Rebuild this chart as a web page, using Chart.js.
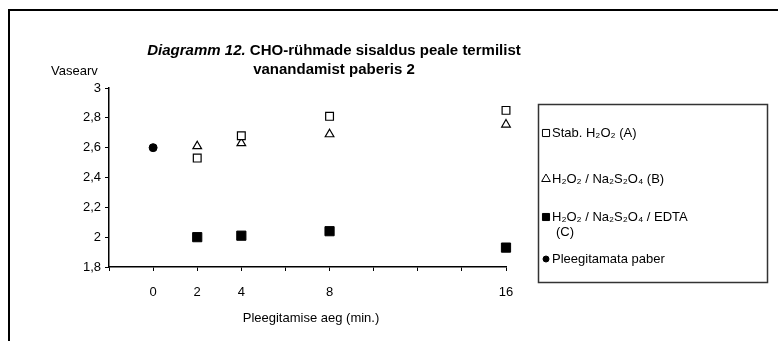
<!DOCTYPE html>
<html>
<head>
<meta charset="utf-8">
<script src="https://cdn.jsdelivr.net/npm/chart.js@4/dist/chart.umd.min.js"></script>
<style>
  html, body { margin: 0; padding: 0; background: #fff; }
  #wrap { position: relative; width: 778px; height: 341px; }
</style>
</head>
<body>
<div id="wrap"><canvas id="chart" width="778" height="341"></canvas></div>
<script>
// bleaching time (min.)
const times = [0, 2, 4, 8, 16];
const xTickLabels = [0, 2, 4, 8, 16];

const stabH2O2 = [null, 2.53, 2.68, 2.81, 2.85];
const h2o2Na = [null, 2.61, 2.63, 2.69, 2.755];
const h2o2NaEdta = [null, 2.0, 2.01, 2.04, 1.93];
const unbleached = [2.6, null, null, null, null];

const seriesNames = [
    ['Stab. H₂O₂ (A)'],
    ['H₂O₂ / Na₂S₂O₄ (B)'],
    ['H₂O₂ / Na₂S₂O₄ / EDTA', '(C)'],
    ['Pleegitamata paber']
];

const titleLine1a = 'Diagramm 12.';
const titleLine1b = ' CHO-rühmade sisaldus peale termilist';
const titleLine2 = 'vanandamist paberis 2';
const yTitle = 'Vasearv';
const xTitle = 'Pleegitamise aeg (min.)';

const FONT = '"Liberation Sans", Arial, sans-serif';

function toPoints(arr) {
    return times.map((t, i) => ({ x: t, y: arr[i] })).filter(p => p.y !== null);
}

const extras = {
    id: 'extras',
    afterDraw(chart) {
        const ctx = chart.ctx;
        ctx.save();
        // outer frame
        ctx.strokeStyle = '#000';
        ctx.lineWidth = 2;
        ctx.beginPath();
        ctx.moveTo(9, 341);
        ctx.lineTo(9, 10);
        ctx.lineTo(778, 10);
        ctx.stroke();

        // title
        ctx.fillStyle = '#000';
        ctx.textBaseline = 'middle';
        ctx.font = 'italic bold 15px ' + FONT;
        const wa = ctx.measureText(titleLine1a).width;
        ctx.font = 'bold 15px ' + FONT;
        const wb = ctx.measureText(titleLine1b).width;
        const cx = 334;
        let sx = cx - (wa + wb) / 2;
        ctx.textAlign = 'left';
        ctx.font = 'italic bold 15px ' + FONT;
        ctx.fillText(titleLine1a, sx, 51);
        ctx.font = 'bold 15px ' + FONT;
        ctx.fillText(titleLine1b, sx + wa, 51);
        ctx.textAlign = 'center';
        ctx.fillText(titleLine2, cx, 70);

        // axis titles
        ctx.font = '13px ' + FONT;
        ctx.textAlign = 'left';
        ctx.fillText(yTitle, 51, 71);
        ctx.textAlign = 'center';
        ctx.fillText(xTitle, 311, 318);

        // legend box
        ctx.strokeStyle = '#333';
        ctx.lineWidth = 1.5;
        ctx.strokeRect(538.5, 104.5, 229, 178);
        const rows = [133, 179, 217, 259];
        ctx.textAlign = 'left';
        ctx.font = '13px ' + FONT;
        chart.data.datasets.forEach((ds, i) => {
            const y = rows[i];
            ctx.fillStyle = ds.backgroundColor;
            ctx.strokeStyle = ds.borderColor;
            ctx.lineWidth = 1;
            Chart.helpers.drawPoint(ctx, {
                pointStyle: ds.pointStyle,
                radius: ds.legendRadius,
                rotation: 0,
                borderWidth: 1
            }, 546, y);
            ctx.fillStyle = '#000';
            seriesNames[i].forEach((line, j) => {
                ctx.fillText(line, j === 0 ? 552 : 556, y + j * 15);
            });
        });
        ctx.restore();
    }
};

new Chart(document.getElementById('chart'), {
    type: 'scatter',
    data: {
        datasets: [{
            label: seriesNames[0].join(' '),
            data: toPoints(stabH2O2),
            pointStyle: 'rect',
            pointRadius: 5.5,
            legendRadius: 5,
            backgroundColor: '#fff',
            borderColor: '#000',
            borderWidth: 1.2,
            clip: false
        }, {
            label: seriesNames[1].join(' '),
            data: toPoints(h2o2Na),
            pointStyle: 'triangle',
            pointRadius: 5,
            legendRadius: 5,
            backgroundColor: '#fff',
            borderColor: '#000',
            borderWidth: 1.2,
            clip: false
        }, {
            label: seriesNames[2].join(' '),
            data: toPoints(h2o2NaEdta),
            pointStyle: 'rect',
            pointRadius: 6.5,
            legendRadius: 5,
            backgroundColor: '#000',
            borderColor: '#000',
            borderWidth: 1,
            clip: false
        }, {
            label: seriesNames[3].join(' '),
            data: toPoints(unbleached),
            pointStyle: 'circle',
            pointRadius: 4,
            legendRadius: 3,
            backgroundColor: '#000',
            borderColor: '#000',
            borderWidth: 1,
            clip: false
        }]
    },
    options: {
        responsive: false,
        animation: false,
        layout: { padding: { left: 0, top: 88, right: 272, bottom: 0 } },
        plugins: {
            legend: { display: false },
            tooltip: { enabled: false },
            title: { display: false }
        },
        scales: {
            x: {
                type: 'linear',
                min: -2,
                max: 16,
                afterFit: s => { s.height = 74; },
                afterBuildTicks: s => {
                    s.ticks = [];
                    for (let v = -2; v <= 16; v += 2) s.ticks.push({ value: v });
                },
                ticks: {
                    color: '#000',
                    font: { family: FONT, size: 13 },
                    padding: 14,
                    maxRotation: 0,
                    autoSkip: false,
                    callback: v => xTickLabels.includes(v) ? String(v) : ''
                },
                grid: { drawOnChartArea: false, color: '#000', tickLength: 4, tickColor: '#000' },
                border: { color: '#000', width: 1.5 }
            },
            y: {
                min: 1.8,
                max: 3,
                afterFit: s => { s.width = 109; },
                ticks: {
                    stepSize: 0.2,
                    color: '#000',
                    font: { family: FONT, size: 13 },
                    padding: 4,
                    callback: v => (Math.round(v * 10) / 10).toString().replace('.', ',')
                },
                grid: { drawOnChartArea: false, color: '#000', tickLength: 4, tickColor: '#000' },
                border: { color: '#000', width: 1.5 }
            }
        }
    },
    plugins: [extras]
});
</script>
</body>
</html>
